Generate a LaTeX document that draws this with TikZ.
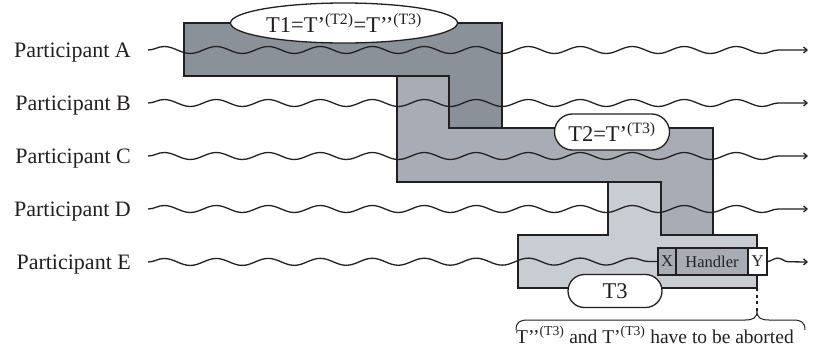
\documentclass[tikz,border=0pt]{standalone}
\usepackage{fontspec}
\setmainfont{Liberation Serif}
\usetikzlibrary{arrows.meta, positioning, shapes.geometric, shapes.misc, decorations.pathmorphing}
\definecolor{txn-dark}{RGB}{139,145,153}
\definecolor{txn-mid}{RGB}{168,173,181}
\definecolor{txn-light}{RGB}{200,204,211}
\definecolor{ink}{RGB}{35,31,32}

\begin{document}
\begin{tikzpicture}[
  x=1bp, y=-1bp,
  txn/.style={draw=ink, line width=1.3bp},
  participant/.style={anchor=east, inner sep=0pt, text height=15bp, text depth=0pt,
                      text=ink, font=\fontsize{22bp}{26bp}\selectfont},
  tlabel/.style={draw=ink, fill=white, line width=1.3bp, inner sep=0pt, text=ink,
                 font=\fontsize{22.5bp}{26bp}\selectfont},
  hbox/.style={draw=ink, line width=1.3bp, minimum height=27bp, inner sep=0pt,
               outer sep=0pt, text=ink, font=\fontsize{16.5bp}{20bp}\selectfont},
  wave/.style={draw=ink, line width=1.3bp, decorate,
               decoration={snake, amplitude=3.5bp, segment length=52bp, post length=4bp}},
  tip/.style={-{Straight Barb[length=3.5bp, width=6bp]}},
]
\useasboundingbox (0,0) rectangle (814,349);

% Transactions (nested)
\fill[txn-light] (608,182) -- (661,182) -- (661,235) -- (757,235) -- (757,288)
  -- (518,288) -- (518,235) -- (608,235) -- cycle;
\draw[txn] (608,182) -- (661,182) -- (661,235) -- (757,235) -- (757,288)
  -- (518,288) -- (518,235) -- (608,235) -- cycle;
\filldraw[txn, fill=txn-mid] (397,76) -- (449,76) -- (449,128) -- (713,128) -- (713,235)
  -- (661,235) -- (661,182) -- (397,182) -- cycle;
\filldraw[txn, fill=txn-dark] (184,23) -- (502,23) -- (502,128) -- (449,128) -- (449,76)
  -- (184,76) -- cycle;

% Participants
\foreach \p/\y in {A/50, B/103, C/156, D/209, E/262} {
  \node[participant] (p\p) at (131,\y) {Participant \p};
  \coordinate (end\p) at (808,\y);
}
\foreach \p in {A, B, C, D}
  \draw[wave, tip] ([xshift=17bp]p\p.east) -- (end\p);

% Handler
\node[hbox, fill=txn-mid, minimum width=18bp, anchor=west] (hx) at (658,261.5) {X};
\node[hbox, fill=txn-mid, minimum width=72bp, right=0pt of hx] (hnd) {Handler};
\node[hbox, fill=white, minimum width=19bp, right=0pt of hnd] (hy) {Y};

\draw[wave] ([xshift=17bp]pE.east) -- (hx.west);
\draw[wave, tip, decoration={segment length=34bp}] (hy.east) -- (endE);

% Transaction labels
\node[tlabel, ellipse, minimum width=227bp, minimum height=40bp] (t1) at (344,23)
  {T1=T’\textsuperscript{(T2)}=T’’\textsuperscript{(T3)}};
\node[tlabel, rounded rectangle, minimum width=115bp, minimum height=36bp] (t2) at (612,132)
  {T2=T’\textsuperscript{(T3)}};
\node[tlabel, rounded rectangle, minimum width=94bp, minimum height=33bp] (t3) at (615,291) {T3};

% Abort brace
\coordinate (t3end) at (757,288);
\coordinate (brtip) at (757,311);
\draw[ink, line width=1.5bp, dash pattern=on 3bp off 3.5bp] (t3end) -- (brtip);
\draw[ink, line width=1bp] (516,330) .. controls (516,322) and (520,320) .. (528,320) -- (745,320)
  .. controls (753,320) and (757,318) .. (brtip) .. controls (757,318) and (761,320) .. (769,320)
  -- (793,320) .. controls (801,320) and (805,322) .. (805,330);
\node[anchor=base, text=ink, font=\fontsize{19.5bp}{23bp}\selectfont] (abort) at (655,343)
  {T’’\textsuperscript{(T3)} and T’\textsuperscript{(T3)} have to be aborted};

\end{tikzpicture}
\end{document}
